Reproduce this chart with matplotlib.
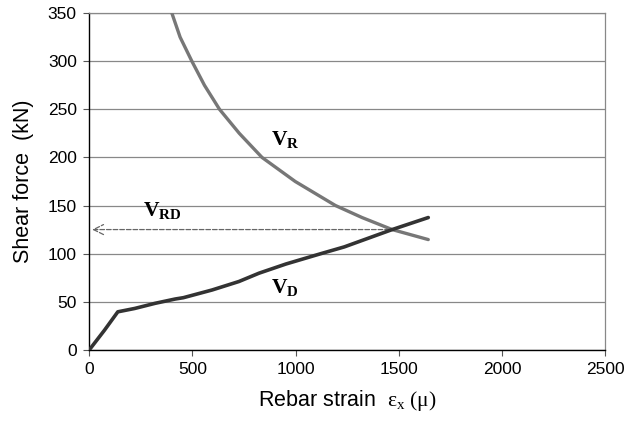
import matplotlib
matplotlib.use('Agg')
import matplotlib.pyplot as plt

# data
strain_d = [0, 73, 138, 220, 318, 416, 456, 595, 725, 823, 953, 1123, 1236, 1468, 1643]
force_d = [0, 20.3, 39.5, 43, 48.3, 52.8, 54.2, 62.2, 71, 79.7, 89.2, 100, 107, 125, 137.5]

strain_r = [400, 440, 497, 558, 631, 727, 837, 998, 1193, 1322, 1468, 1643]
force_r = [350, 325, 300, 275, 250, 225, 200, 175, 150, 137.5, 125, 114.6]

v_rd = 125
x_cross = 1468

plt.rcParams['font.family'] = ['Liberation Sans', 'DejaVu Sans']
plt.rcParams['mathtext.fontset'] = 'custom'
plt.rcParams['mathtext.rm'] = 'Liberation Serif'
plt.rcParams['mathtext.it'] = 'Liberation Serif:italic'
plt.rcParams['mathtext.bf'] = 'Liberation Serif:bold'

fig = plt.figure(figsize=(6.27, 4.23), dpi=100)
ax = fig.add_axes([0.1425, 0.173, 0.8225, 0.796])

ax.plot(strain_r, force_r, color='#777777', linewidth=2.4, solid_capstyle='round', zorder=3)
ax.plot(strain_d, force_d, color='#333333', linewidth=2.6, solid_capstyle='round',
        solid_joinstyle='round', zorder=4)

# V_RD dashed arrow
ax.annotate('', xy=(0, v_rd), xytext=(x_cross, v_rd),
            arrowprops=dict(arrowstyle='->', color='#666666', linestyle='--',
                            linewidth=0.9, mutation_scale=18), zorder=2)

ax.text(880, 219, r'$\mathbf{V}_{\mathbf{R}}$', fontsize=15.5, ha='left', va='center')
ax.text(258, 145, r'$\mathbf{V}_{\mathbf{RD}}$', fontsize=15.5, ha='left', va='center')
ax.text(883, 65, r'$\mathbf{V}_{\mathbf{D}}$', fontsize=15.5, ha='left', va='center')

ax.set_xlim(0, 2500)
ax.set_ylim(0, 350)
ax.set_xticks(range(0, 2501, 500))
ax.set_yticks(range(0, 351, 50))
ax.yaxis.grid(True, color='#888888', linewidth=0.9)
ax.set_axisbelow(True)

for s in ['top', 'right']:
    ax.spines[s].set_color('#888888')
    ax.spines[s].set_linewidth(0.9)
for s in ['left', 'bottom']:
    ax.spines[s].set_color('black')
    ax.spines[s].set_linewidth(1.0)

ax.tick_params(axis='both', labelsize=12.5, length=4, width=0.8, color='#555555', pad=5)

ax.set_ylabel('Shear force  (kN)', fontsize=15.5, labelpad=10)
ax.set_xlabel(r'Rebar strain  $\mathrm{\epsilon_x\ (\mu)}$', fontsize=15.5, labelpad=8)

fig.savefig('out.png', dpi=100)
